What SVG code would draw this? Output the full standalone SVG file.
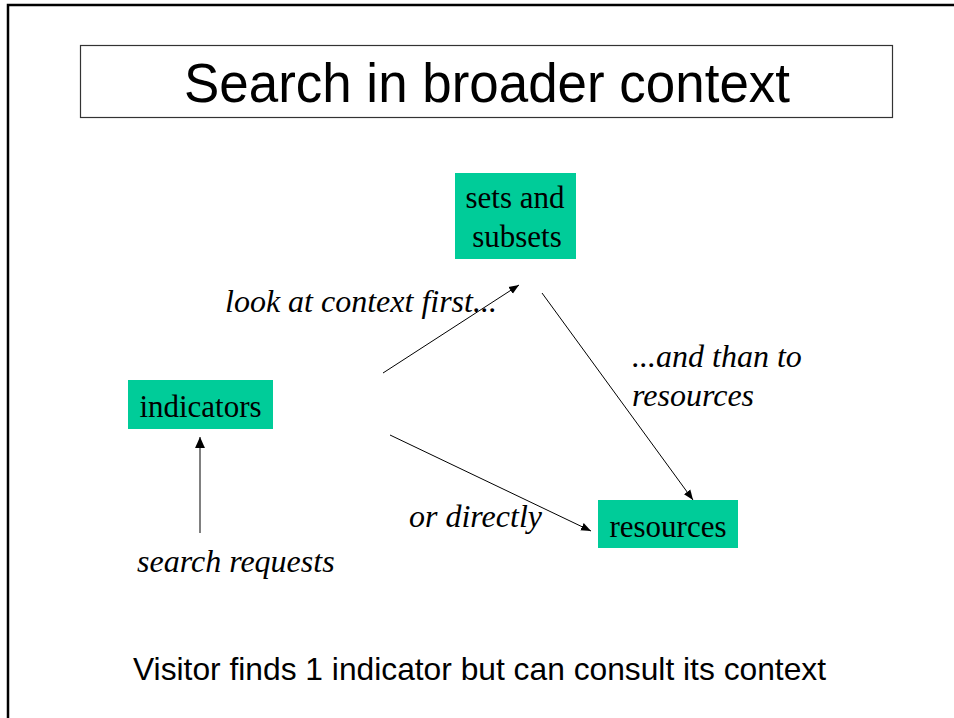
<svg xmlns="http://www.w3.org/2000/svg" width="954" height="718" viewBox="0 0 954 718">
  <style>
    .frame { fill: none; stroke: #000; stroke-width: 2.5; }
    .titlebox { fill: #fff; stroke: #333; stroke-width: 1.2; }
    .sans { font-family: "Liberation Sans", Arial, sans-serif; fill: #000; }
    .node rect { fill: #00CC99; stroke: none; }
    .node text { font-family: "Liberation Serif", "Times New Roman", serif; font-size: 31px; fill: #000; }
    .lbl { font-family: "Liberation Serif", "Times New Roman", serif; font-style: italic; font-size: 32px; fill: #000; }
    .edge { stroke: #000; stroke-width: 1; fill: none; marker-end: url(#head); }
    .edge.gray { stroke: #808080; stroke-width: 2; marker-end: url(#headg); }
  </style>
  <defs>
    <marker id="head" viewBox="0 0 10 10" refX="10" refY="5" markerWidth="10" markerHeight="10" markerUnits="userSpaceOnUse" orient="auto">
      <path d="M0,1 L10,5 L0,9 Z" fill="#000"/>
    </marker>
    <marker id="headg" viewBox="0 0 10 10" refX="10" refY="5" markerWidth="5.5" markerHeight="5.5" orient="auto">
      <path d="M0,0.5 L10,5 L0,9.5 Z" fill="#000"/>
    </marker>
  </defs>

  <rect width="954" height="718" fill="#fff"/>

  <!-- slide frame: top and left edges -->
  <path class="frame" d="M954,5 L8,5 L8,718"/>

  <!-- title -->
  <g id="title">
    <rect class="titlebox" x="80.5" y="45.5" width="812" height="72"/>
    <text class="sans" x="184" y="102" font-size="55" textLength="606" lengthAdjust="spacingAndGlyphs">Search in broader context</text>
  </g>

  <!-- connectors -->
  <g id="connectors">
    <line class="edge gray" x1="200" y1="533" x2="200" y2="437"/>
    <line class="edge" x1="383" y1="373" x2="519" y2="285"/>
    <line class="edge" x1="542" y1="293" x2="693" y2="500"/>
    <line class="edge" x1="390" y1="435" x2="591" y2="531"/>
  </g>

  <!-- nodes -->
  <g id="sets" class="node">
    <rect x="455" y="173" width="121" height="86"/>
    <text x="515" y="208" text-anchor="middle">sets and</text>
    <text x="517" y="247" text-anchor="middle">subsets</text>
  </g>
  <g id="indicators" class="node">
    <rect x="128" y="380" width="145" height="49"/>
    <text x="200.5" y="417" text-anchor="middle">indicators</text>
  </g>
  <g id="resources" class="node">
    <rect x="598" y="500" width="140" height="48"/>
    <text x="668" y="537" text-anchor="middle">resources</text>
  </g>

  <!-- connector labels -->
  <g id="labels">
    <text class="lbl" x="225" y="312">look at context first...</text>
    <text class="lbl" x="632" y="367">...and than to</text>
    <text class="lbl" x="632" y="406">resources</text>
    <text class="lbl" x="409" y="527">or directly</text>
    <text class="lbl" x="137" y="572">search requests</text>
  </g>

  <!-- caption -->
  <text class="sans" x="133" y="680" font-size="32" textLength="693" lengthAdjust="spacingAndGlyphs">Visitor finds 1 indicator but can consult its context</text>
</svg>
